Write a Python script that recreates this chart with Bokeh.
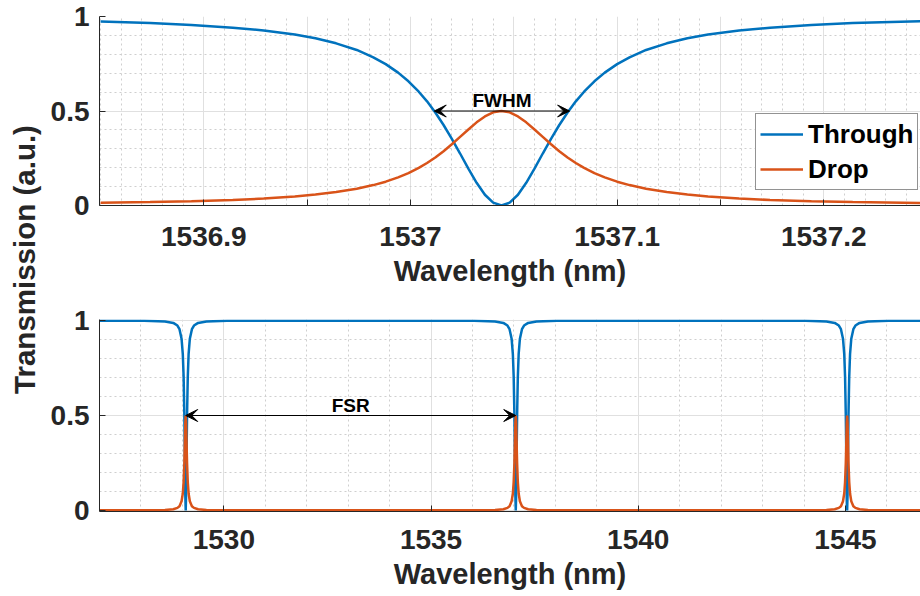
from bokeh.plotting import figure
from bokeh.models import (Range1d, FixedTicker, Arrow, VeeHead, Legend, LegendItem, Label)
from bokeh.layouts import row, column
from bokeh.embed import file_html
from bokeh.resources import INLINE

FONT = "Liberation Sans"
BLUE = "#0072BD"
ORANGE = "#D95319"
AXC = "#262626"

# ---------------- data: zoom on one resonance (top panel) ----------------
zoom_wl = [1536.850, 1536.874, 1536.894, 1536.914, 1536.929, 1536.944, 1536.954, 1536.964,
           1536.974, 1536.982, 1536.988, 1536.994, 1536.999, 1537.004, 1537.008, 1537.012,
           1537.016, 1537.020, 1537.024, 1537.028, 1537.032, 1537.036, 1537.040, 1537.044,
           1537.048, 1537.052, 1537.056, 1537.060, 1537.064, 1537.068, 1537.072, 1537.076,
           1537.080, 1537.084, 1537.089, 1537.094, 1537.100, 1537.106, 1537.114, 1537.124,
           1537.134, 1537.144, 1537.159, 1537.174, 1537.194, 1537.214, 1537.247]
zoom_through = [0.973, 0.965, 0.955, 0.941, 0.926, 0.905, 0.885, 0.858, 0.823, 0.784, 0.748,
                0.703, 0.657, 0.602, 0.551, 0.492, 0.426, 0.353, 0.275, 0.195, 0.120, 0.057,
                0.015, 0.000, 0.015, 0.057, 0.120, 0.195, 0.275, 0.353, 0.426, 0.492, 0.551,
                0.602, 0.657, 0.703, 0.748, 0.784, 0.823, 0.858, 0.885, 0.905, 0.926, 0.941,
                0.955, 0.965, 0.975]
zoom_drop = [0.014, 0.018, 0.022, 0.029, 0.037, 0.048, 0.058, 0.071, 0.089, 0.108, 0.126,
             0.149, 0.171, 0.199, 0.225, 0.254, 0.287, 0.324, 0.363, 0.402, 0.440, 0.471,
             0.493, 0.500, 0.493, 0.471, 0.440, 0.402, 0.363, 0.324, 0.287, 0.254, 0.225,
             0.199, 0.171, 0.149, 0.126, 0.108, 0.089, 0.071, 0.058, 0.048, 0.037, 0.029,
             0.022, 0.018, 0.013]

# ---------------- data: wide span with three resonances (bottom panel) ----------------
span_wl = [1527.000,
           1528.080, 1528.580, 1528.780, 1528.880, 1528.930, 1528.980, 1529.010, 1529.030,
           1529.0475, 1529.060, 1529.070, 1529.080, 1529.090, 1529.100, 1529.1125, 1529.130,
           1529.150, 1529.180, 1529.230, 1529.280, 1529.380, 1529.580, 1530.080,
           1533.060,
           1536.044, 1536.544, 1536.744, 1536.844, 1536.894, 1536.944, 1536.974, 1536.994,
           1537.0115, 1537.024, 1537.034, 1537.044, 1537.054, 1537.064, 1537.0765, 1537.094,
           1537.114, 1537.144, 1537.194, 1537.244, 1537.344, 1537.544, 1538.044,
           1541.040,
           1544.040, 1544.540, 1544.740, 1544.840, 1544.890, 1544.940, 1544.970, 1544.990,
           1545.0075, 1545.020, 1545.030, 1545.040, 1545.050, 1545.060, 1545.0725, 1545.090,
           1545.110, 1545.140, 1545.190, 1545.240, 1545.340, 1545.540, 1546.040,
           1546.810]
span_through = [0.9998,
                0.999, 0.996, 0.988, 0.974, 0.955, 0.905, 0.823, 0.703, 0.500, 0.275, 0.087, 0.000,
                0.087, 0.275, 0.500, 0.703, 0.823, 0.905, 0.955, 0.974, 0.988, 0.996, 0.999,
                1.000,
                0.999, 0.996, 0.988, 0.974, 0.955, 0.905, 0.823, 0.703, 0.500, 0.275, 0.087, 0.000,
                0.087, 0.275, 0.500, 0.703, 0.823, 0.905, 0.955, 0.974, 0.988, 0.996, 0.999,
                1.000,
                0.999, 0.996, 0.988, 0.974, 0.955, 0.905, 0.823, 0.703, 0.500, 0.275, 0.087, 0.000,
                0.087, 0.275, 0.500, 0.703, 0.823, 0.905, 0.955, 0.974, 0.988, 0.996, 0.999,
                0.9996]
span_drop = [0.0001,
             0.0005, 0.002, 0.006, 0.013, 0.022, 0.048, 0.089, 0.149, 0.250, 0.363, 0.457, 0.500,
             0.457, 0.363, 0.250, 0.149, 0.089, 0.048, 0.022, 0.013, 0.006, 0.002, 0.0005,
             0.0000,
             0.0005, 0.002, 0.006, 0.013, 0.022, 0.048, 0.089, 0.149, 0.250, 0.363, 0.457, 0.500,
             0.457, 0.363, 0.250, 0.149, 0.089, 0.048, 0.022, 0.013, 0.006, 0.002, 0.0005,
             0.0000,
             0.0005, 0.002, 0.006, 0.013, 0.022, 0.048, 0.089, 0.149, 0.250, 0.363, 0.457, 0.500,
             0.457, 0.363, 0.250, 0.149, 0.089, 0.048, 0.022, 0.013, 0.006, 0.002, 0.0005,
             0.0002]

# annotations
fwhm_edges = [1537.0115, 1537.077]
fwhm_level = 0.5
fsr_edges = [1529.08, 1537.044]
fsr_level = 0.5

# ticks
top_xticks = [1536.9, 1536.95, 1537.0, 1537.05, 1537.1, 1537.15, 1537.2]
top_xlabels = ["1536.9", "", "1537", "", "1537.1", "", "1537.2"]
top_xminor = [1536.85 + 0.01 * i for i in range(40)]
bot_xticks = [1530, 1535, 1540, 1545]
bot_xlabels = ["1530", "1535", "1540", "1545"]
bot_xminor = list(range(1527, 1547))
yticks = [0, 0.5, 1]
ylabels = ["0", "0.5", "1"]
yminor = [0.1 * i for i in range(11)]


def style(p, xticks, xlabels, xminor, xstandoff):
    p.outline_line_color = None
    p.background_fill_color = "white"
    p.border_fill_color = "white"
    for ax, tk, lb, mn in ((p.xaxis[0], xticks, xlabels, xminor),
                           (p.yaxis[0], yticks, ylabels, yminor)):
        ax.ticker = FixedTicker(ticks=tk, minor_ticks=mn)
        ax.major_label_overrides = {t: l for t, l in zip(tk, lb)}
        ax.axis_line_color = AXC
        ax.axis_line_width = 1
        ax.major_tick_line_color = AXC
        ax.major_tick_in = 6
        ax.major_tick_out = 0
        ax.minor_tick_in = 0
        ax.minor_tick_out = 0
        ax.major_label_text_font = FONT
        ax.major_label_text_font_style = "bold"
        ax.major_label_text_font_size = "28px"
        ax.major_label_text_color = AXC
        ax.axis_label_text_font = FONT
        ax.axis_label_text_font_style = "bold"
        ax.axis_label_text_font_size = "29px"
        ax.axis_label_text_color = AXC
    p.xaxis.major_label_standoff = xstandoff
    p.xaxis.axis_label_standoff = 6
    p.yaxis.major_label_standoff = 10
    for g in (p.xgrid[0], p.ygrid[0]):
        g.grid_line_color = "#e0e0e0"
        g.grid_line_width = 1
        g.minor_grid_line_color = "#cfcfcf"
        g.minor_grid_line_dash = "2 3"
        g.minor_grid_line_width = 1
    p.xgrid[0].ticker = p.xaxis[0].ticker
    p.ygrid[0].ticker = p.yaxis[0].ticker


def note(x, y, text):
    return Label(x=x, y=y, y_offset=0, text=text,
                 text_font=FONT, text_font_style="bold", text_font_size="19px",
                 text_align="center", text_baseline="bottom", text_color="black")


def dbl_arrow(x0, x1, y):
    return Arrow(x_start=x0, y_start=y, x_end=x1, y_end=y,
                 line_color="black", line_width=1,
                 start=VeeHead(size=12, fill_color="black", line_color="black"),
                 end=VeeHead(size=12, fill_color="black", line_color="black"))


# ---------------- top panel ----------------
top = figure(width=875, height=300, output_backend="svg", toolbar_location=None,
             x_range=Range1d(1536.8495, 1537.2468), y_range=Range1d(0, 1),
             min_border_left=54, min_border_right=0, min_border_top=16, min_border_bottom=95)
style(top, top_xticks, top_xlabels, top_xminor, 21)
top.xaxis.axis_label = "Wavelength (nm)"
r_t = top.line(zoom_wl, zoom_through, line_color=BLUE, line_width=2.5)
r_d = top.line(zoom_wl, zoom_drop, line_color=ORANGE, line_width=2.5)

top.add_layout(dbl_arrow(fwhm_edges[0], fwhm_edges[1], fwhm_level))
top.add_layout(note((fwhm_edges[0] + fwhm_edges[1]) / 2, fwhm_level, "FWHM"))

legend = Legend(items=[LegendItem(label="Through", renderers=[r_t]),
                       LegendItem(label="Drop", renderers=[r_d])],
                location=(656, 15), margin=0, padding=4, spacing=3,
                glyph_width=43, glyph_height=32, label_height=32, label_standoff=5,
                label_text_font=FONT, label_text_font_style="bold", label_text_font_size="26px",
                label_text_color="black", border_line_color=AXC, border_line_width=1,
                background_fill_color="white", background_fill_alpha=1.0)
top.add_layout(legend, "center")

# ---------------- bottom panel ----------------
bot = figure(width=875, height=296, output_backend="svg", toolbar_location=None,
             x_range=Range1d(1527.0, 1546.81), y_range=Range1d(-0.006, 1.006),
             min_border_left=54, min_border_right=0, min_border_top=19, min_border_bottom=85)
style(bot, bot_xticks, bot_xlabels, bot_xminor, 18)
bot.xaxis.axis_label = "Wavelength (nm)"
bot.line(span_wl, span_through, line_color=BLUE, line_width=2.5)
bot.line(span_wl, span_drop, line_color=ORANGE, line_width=2.5)
bot.add_layout(dbl_arrow(fsr_edges[0], fsr_edges[1], fsr_level))
bot.add_layout(note((fsr_edges[0] + fsr_edges[1]) / 2, fsr_level, "FSR"))

# ---------------- shared y label ----------------
lab = figure(width=45, height=596, output_backend="svg", toolbar_location=None,
             x_range=Range1d(0, 45), y_range=Range1d(0, 596),
             x_axis_type=None, y_axis_type=None, min_border=0)
lab.outline_line_color = None
lab.add_layout(Label(x=24, y=337, text="Transmission (a.u.)", angle=1.5707963,
                     text_font=FONT, text_font_style="bold", text_font_size="29.5px",
                     text_align="center", text_baseline="middle", text_color=AXC))

layout = row(lab, column(top, bot))
open("out.html", "w").write(file_html(layout, INLINE))
